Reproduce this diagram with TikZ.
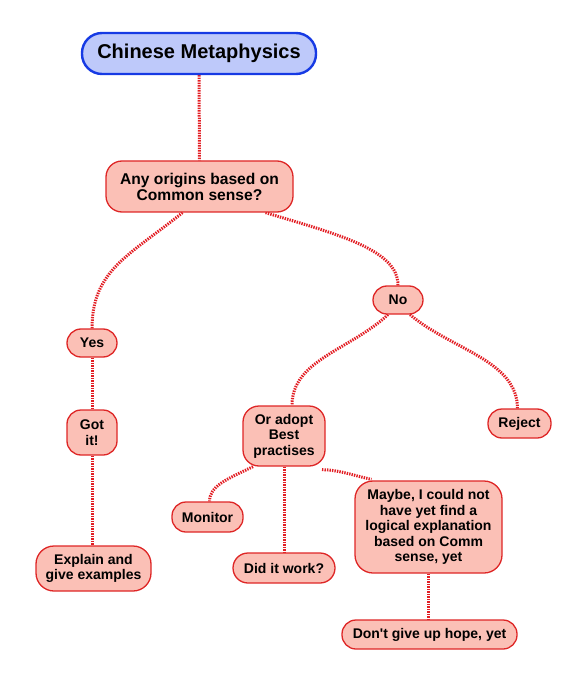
\documentclass[tikz,border=0pt]{standalone}
\usepackage{fontspec}
\setmainfont{Liberation Sans}
\usetikzlibrary{backgrounds}
\definecolor{nodefill}{RGB}{251,192,182}
\definecolor{nodeline}{RGB}{222,38,38}
\definecolor{topfill}{RGB}{190,201,250}
\definecolor{topline}{RGB}{22,58,228}
\definecolor{linkred}{RGB}{226,30,36}
\tikzset{
  concept/.style={draw=nodeline, fill=nodefill, line width=1.3pt, rounded corners=14pt,
    inner sep=0pt, align=center, font=\fontsize{14}{15.5}\selectfont\bfseries},
  topconcept/.style={draw=topline, fill=topfill, line width=2.4pt, rounded corners=20pt,
    inner sep=0pt, align=center, font=\fontsize{20}{22}\selectfont\bfseries},
  link/.style={draw=linkred, line width=3pt, dash pattern=on 1.4pt off 1.1pt}
}
\begin{document}
\begin{tikzpicture}[x=1pt,y=-1pt]
\useasboundingbox (0,0) rectangle (586,684);
\node[topconcept, minimum width=234pt, minimum height=41pt] (top) at (199,53.5) {Chinese Metaphysics};
\node[concept, minimum width=187pt, minimum height=51pt, rounded corners=16pt,
  font=\fontsize{15.6}{16}\selectfont\bfseries] (any) at (199.5,186.5) {Any origins based on\\Common sense?};
\node[concept, minimum width=50pt, minimum height=28pt] (no) at (398,300) {No};
\node[concept, minimum width=50pt, minimum height=28pt] (yes) at (92,343) {Yes};
\node[concept, minimum width=50pt, minimum height=45pt] (got) at (92,432.5) {Got\\it!};
\node[concept, minimum width=82pt, minimum height=60pt, rounded corners=16pt] (adopt) at (284,436) {Or adopt\\Best\\practises};
\node[concept, minimum width=63pt, minimum height=29pt] (reject) at (519.5,423.5) {Reject};
\node[concept, minimum width=71pt, minimum height=30pt] (monitor) at (207.5,517) {Monitor};
\node[concept, minimum width=147pt, minimum height=92pt, rounded corners=18pt] (maybe) at (428.5,527) {Maybe, I could not\\have yet find a\\logical explanation\\based on Comm\\sense, yet};
\node[concept, minimum width=115pt, minimum height=45pt, rounded corners=18pt] (explain) at (93.5,568.5) {Explain and\\give examples};
\node[concept, minimum width=102pt, minimum height=30pt, rounded corners=15pt] (did) at (284,568) {Did it work?};
\node[concept, minimum width=175pt, minimum height=29pt] (dont) at (429.5,634.5) {Don\textquotesingle t give up hope, yet};
\begin{scope}[on background layer]
\draw[link] (top.south) -- (any.north);
\draw[link] ([xshift=-17pt]any.south) .. controls (130,255) and (92,270) .. (yes.north);
\draw[link] ([xshift=66pt]any.south) .. controls (340,235) and (398,250) .. (no.north);
\draw[link] (yes.south) -- (got.north);
\draw[link] (got.south) -- (explain.north -| got.south);
\draw[link] ([xshift=-10pt]no.south) .. controls (350,350) and (292,360) .. ([xshift=8pt]adopt.north);
\draw[link] ([xshift=12pt]no.south) .. controls (452,350) and (517,360) .. ([xshift=-2pt]reject.north);
\draw[link] ([xshift=-31pt]adopt.south) .. controls (225,480) and (210,486) .. ([xshift=2pt]monitor.north);
\draw[link] (adopt.south) -- (did.north);
\draw[link] ([xshift=38pt,yshift=-3pt]adopt.south) .. controls (340,470) and (355,476) .. ([xshift=-57pt,yshift=1pt]maybe.north);
\draw[link] (maybe.south) -- (dont.north -| maybe.south);
\end{scope}
\end{tikzpicture}
\end{document}
